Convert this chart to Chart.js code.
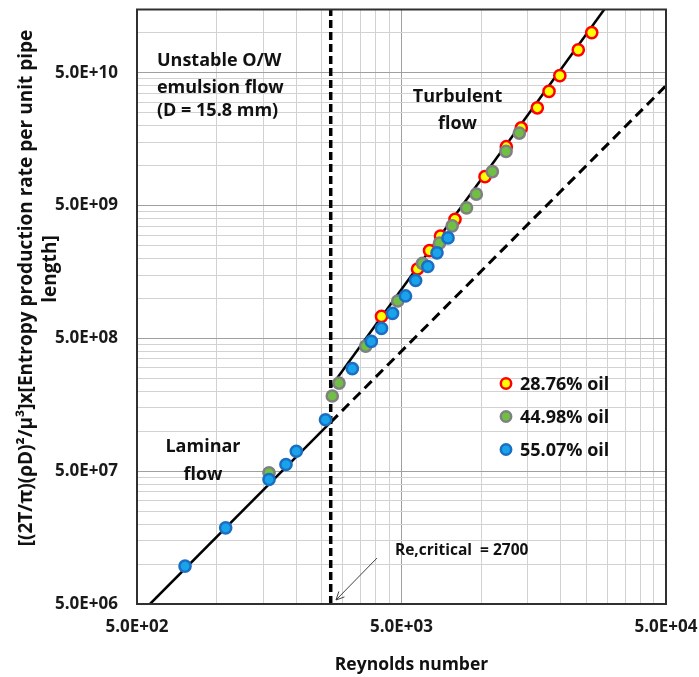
<!DOCTYPE html>
<html><head><meta charset="utf-8">
<script src="https://cdn.jsdelivr.net/npm/chart.js@4"></script>
<style>html,body{margin:0;padding:0;background:#fff;}#wrap{width:699px;height:677px;position:relative;}canvas{display:block;}</style>
</head><body><div id="wrap"><canvas id="c" width="699" height="677" style="width:699px;height:677px"></canvas></div>
<script>
// ---------------- data ----------------
const seriesNames = ['28.76% oil', '44.98% oil', '55.07% oil'];
const re2876 = [4201, 5748, 6381, 7020, 7966, 10344, 12452, 14186, 16310, 18060, 19840, 23300, 26190];
const s2876  = [7.32e8, 1.666e9, 2.294e9, 2.949e9, 3.945e9, 8.26e9, 1.389e10, 1.923e10, 2.728e10, 3.63e10, 4.76e10, 7.45e10, 1.005e11];
const re4498 = [1578, 2737, 2902, 3661, 4837, 6003, 6960, 7774, 8805, 9590, 11024, 12420, 13943];
const s4498  = [4.87e7, 1.842e8, 2.307e8, 4.377e8, 9.57e8, 1.838e9, 2.612e9, 3.524e9, 4.814e9, 6.1e9, 9.01e9, 1.28e10, 1.761e10];
const re5507 = [759.5, 1082, 1578, 1829, 2001, 2580, 3258, 3844, 4201, 4624, 5178, 5655, 6286, 6810, 7496];
const s5507  = [9.65e6, 1.874e7, 4.33e7, 5.616e7, 7.07e7, 1.22e8, 2.96e8, 4.75e8, 5.95e8, 7.71e8, 1.044e9, 1.365e9, 1.74e9, 2.205e9, 2.858e9];
const laminarRe    = [560, 2700];
const laminarS     = [5e6, 1.17e8];
const laminarExtRe = [2700, 50000];
const laminarExtS  = [1.17e8, 4.0e10];
const turbulentRe  = [2700, 29200];
const turbulentS   = [2.15e8, 1.5e11];
const reCritical   = 2700;
const xTickValues = [500, 5000, 50000];
const xTickLabels = ['5.0E+02', '5.0E+03', '5.0E+04'];
const yTickValues = [5e6, 5e7, 5e8, 5e9, 5e10];
const yTickLabels = ['5.0E+06', '5.0E+07', '5.0E+08', '5.0E+09', '5.0E+10'];
const minorMultipliers = [1, 2, 3, 4, 5, 6, 7, 8, 9];
const xRange = [500, 50000];
const yRange = [5e6, 1.5e11];
const xTitle = 'Reynolds number';
const yTitleLines = ['[(2T/π)(ρD)²/μ³]x[Entropy production rate per unit pipe', 'length]'];

// -------------- helpers ---------------
const pts = (xs, ys) => xs.map((v, i) => ({x: v, y: ys[i]}));
function gridTicks(majors, max) {
  const out = [];
  majors.forEach(m => minorMultipliers.forEach(k => { const v = m * k; if (v <= max * 1.0000001) out.push(v); }));
  return out;
}
const isMajor = (v, majors) => majors.some(m => Math.abs(v - m) / m < 1e-6);
function labelFor(v, majors, labels) {
  const i = majors.findIndex(m => Math.abs(v - m) / m < 1e-6);
  return i >= 0 ? labels[i] : '';
}

const FONT = '"Open Sans", Lato, "DejaVu Sans", sans-serif';
Chart.defaults.font.family = FONT;

const styles = [
  {bg: '#FFFF00', border: '#FF0000'},
  {bg: '#6FBF45', border: '#808080'},
  {bg: '#18A3EA', border: '#1B6FC3'}
];

const overlay = {
  id: 'overlay',
  afterDraw(chart) {
    const {ctx, chartArea: a, scales: {x, y}} = chart;
    ctx.save();
    // frame
    ctx.strokeStyle = '#303030';
    ctx.lineWidth = 2;
    ctx.strokeRect(a.left, a.top, a.right - a.left, a.bottom - a.top);

    ctx.fillStyle = '#111';
    ctx.textBaseline = 'middle';
    const text = (t, xv, yv, align, size) => {
      ctx.font = 'bold ' + size + 'px ' + FONT;
      ctx.textAlign = align;
      ctx.fillText(t, x.getPixelForValue(xv), y.getPixelForValue(yv));
    };
    text('Unstable O/W', 595, 6.15e10, 'left', 18);
    text('emulsion flow', 595, 3.85e10, 'left', 18);
    text('(D = 15.8 mm)', 595, 2.59e10, 'left', 18);
    text('Turbulent', 8140, 3.3e10, 'center', 18);
    text('flow', 8140, 2.07e10, 'center', 18);
    text('Laminar', 888, 7.58e7, 'center', 18);
    text('flow', 888, 4.67e7, 'center', 18);
    text('Re,critical  = ' + reCritical, 4723, 1.27e7, 'left', 15.5);

    // arrow
    const x1 = x.getPixelForValue(4040), y1 = y.getPixelForValue(1.109e7);
    const x2 = x.getPixelForValue(2827), y2 = y.getPixelForValue(5.36e6);
    ctx.strokeStyle = '#404040';
    ctx.lineWidth = 1;
    ctx.beginPath(); ctx.moveTo(x1, y1); ctx.lineTo(x2, y2); ctx.stroke();
    const ang = Math.atan2(y2 - y1, x2 - x1), L = 9, w = 0.45;
    ctx.beginPath();
    ctx.moveTo(x2 - L * Math.cos(ang - w), y2 - L * Math.sin(ang - w));
    ctx.lineTo(x2, y2);
    ctx.lineTo(x2 - L * Math.cos(ang + w), y2 - L * Math.sin(ang + w));
    ctx.stroke();

    // legend
    const lx = a.right - 160, ly0 = a.top + 374, dy = 33;
    seriesNames.forEach((n, i) => {
      const cy = ly0 + i * dy;
      ctx.beginPath();
      ctx.arc(lx, cy, 5.2, 0, Math.PI * 2);
      ctx.fillStyle = styles[i].bg; ctx.fill();
      ctx.lineWidth = 2.5; ctx.strokeStyle = styles[i].border; ctx.stroke();
      ctx.fillStyle = '#111';
      ctx.font = 'bold 18px ' + FONT;
      ctx.textAlign = 'left';
      ctx.fillText(n, lx + 14, cy + 1);
    });

    // x axis title
    ctx.fillStyle = '#111';
    ctx.textAlign = 'center';
    ctx.font = 'bold 17.5px ' + FONT;
    ctx.fillText(xTitle, (a.left + a.right) / 2 + 10, a.bottom + 61);

    // y axis title (two lines, rotated), fitted to the reference length
    ctx.font = 'bold 100px ' + FONT;
    const wRef = ctx.measureText(yTitleLines[0]).width;
    const fs = Math.min(20, 100 * 517 / wRef);
    ctx.font = 'bold ' + fs.toFixed(2) + 'px ' + FONT;
    ctx.save(); ctx.translate(a.left - 110, 288); ctx.rotate(-Math.PI / 2);
    ctx.fillText(yTitleLines[0], 0, 0);
    ctx.restore();
    ctx.save(); ctx.translate(a.left - 86, 269); ctx.rotate(-Math.PI / 2);
    ctx.fillText(yTitleLines[1], 0, 0);
    ctx.restore();
    ctx.restore();
  }
};

const pointDs = (label, xs, ys, st, order) => ({
  label, data: pts(xs, ys), order,
  backgroundColor: st.bg, borderColor: st.border,
  pointBackgroundColor: st.bg, pointBorderColor: st.border,
  pointRadius: 5.6, pointBorderWidth: 2.5, showLine: false
});
const lineDs = (label, xs, ys, width, dash) => ({
  label, data: pts(xs, ys), order: 10, showLine: true,
  borderColor: '#000', borderWidth: width, borderDash: dash,
  pointRadius: 0, fill: false, tension: 0
});
const zeroPad = s => { s.paddingTop = 0; s.paddingBottom = 0; s.paddingLeft = 0; s.paddingRight = 0; };

new Chart(document.getElementById('c'), {
  type: 'scatter',
  data: {
    datasets: [
      pointDs(seriesNames[2], re5507, s5507, styles[2], 0),
      pointDs(seriesNames[1], re4498, s4498, styles[1], 1),
      pointDs(seriesNames[0], re2876, s2876, styles[0], 2),
      lineDs('laminar', laminarRe, laminarS, 2.5, []),
      lineDs('laminar extension', laminarExtRe, laminarExtS, 3, [10, 6]),
      lineDs('turbulent', turbulentRe, turbulentS, 2.5, []),
      lineDs('critical', [reCritical, reCritical], yRange, 3.5, [8, 4])
    ]
  },
  options: {
    responsive: false,
    maintainAspectRatio: false,
    devicePixelRatio: 1,
    animation: false,
    events: [],
    layout: {padding: {top: 9.5, right: 33, left: 0, bottom: 0}},
    plugins: {legend: {display: false}, tooltip: {enabled: false}},
    scales: {
      x: {
        type: 'logarithmic', min: xRange[0], max: xRange[1],
        afterBuildTicks: s => { s.ticks = gridTicks(xTickValues, xRange[1]).map(v => ({value: v})); },
        afterFit: s => { s.height = 73; zeroPad(s); },
        ticks: {
          autoSkip: false, maxRotation: 0, minRotation: 0, padding: 13, color: '#1a1a1a',
          font: {size: 17, weight: 'bold'},
          callback: v => labelFor(v, xTickValues, xTickLabels)
        },
        grid: {
          drawTicks: false,
          color: c => isMajor(c.tick.value, xTickValues) ? '#a0a0a0' : '#d2d2d2',
          lineWidth: 1
        },
        border: {display: true, color: '#404040', width: 2},
        title: {display: false, text: xTitle}
      },
      y: {
        type: 'logarithmic', min: yRange[0], max: yRange[1],
        afterBuildTicks: s => { s.ticks = gridTicks(yTickValues, yRange[1]).map(v => ({value: v})); },
        afterFit: s => { s.width = 137; zeroPad(s); },
        ticks: {
          autoSkip: false, padding: 19, color: '#1a1a1a',
          font: {size: 17, weight: 'bold'},
          callback: v => labelFor(v, yTickValues, yTickLabels)
        },
        grid: {
          drawTicks: false,
          color: c => isMajor(c.tick.value, yTickValues) ? '#a0a0a0' : '#d2d2d2',
          lineWidth: 1
        },
        border: {display: true, color: '#404040', width: 2},
        title: {display: false, text: yTitleLines}
      }
    }
  },
  plugins: [overlay]
});
</script>
</body></html>
